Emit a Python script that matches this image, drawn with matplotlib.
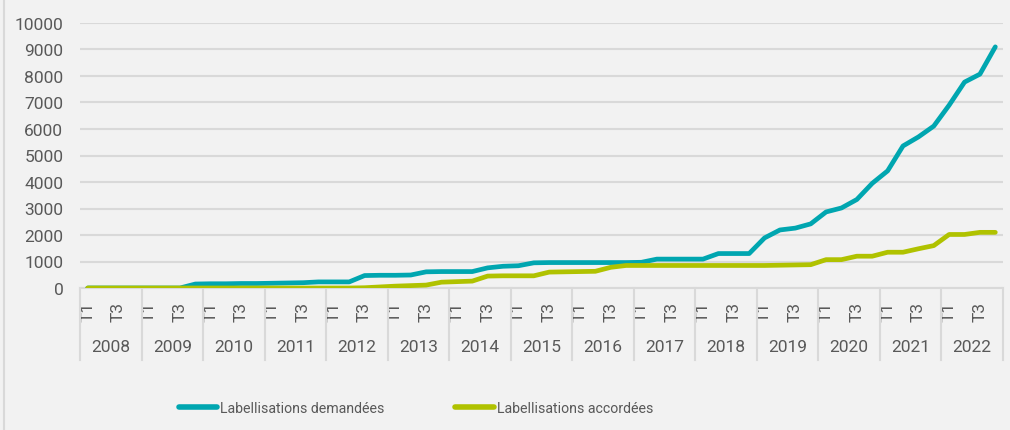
import matplotlib
matplotlib.use("Agg")
import matplotlib.pyplot as plt
import matplotlib.transforms as mtransforms
from matplotlib.lines import Line2D

# Quarterly cumulative data, 2008 T1 -> 2022 T4
years = list(range(2008, 2023))
quarters = ["T1", "T2", "T3", "T4"]

demandees = [
    0, 0, 0, 0,              # 2008
    0, 0, 0, 150,            # 2009
    160, 160, 170, 170,      # 2010
    180, 190, 200, 230,      # 2011
    230, 230, 470, 480,      # 2012
    480, 490, 610, 620,      # 2013
    620, 620, 760, 820,      # 2014
    840, 950, 960, 960,      # 2015
    960, 960, 960, 960,      # 2016
    970, 1090, 1090, 1090,   # 2017
    1090, 1300, 1300, 1300,  # 2018
    1890, 2190, 2260, 2420,  # 2019
    2870, 3020, 3340, 3950,  # 2020
    4420, 5360, 5700, 6110,  # 2021
    6900, 7770, 8070, 9100,  # 2022
]

accordees = [
    0, 0, 0, 0,              # 2008
    0, 0, 0, 0,              # 2009
    0, 0, 0, 0,              # 2010
    0, 0, 0, 0,              # 2011
    0, 0, 10, 40,            # 2012
    70, 90, 110, 220,        # 2013
    240, 260, 450, 460,      # 2014
    460, 460, 600, 610,      # 2015
    620, 630, 780, 850,      # 2016
    850, 850, 850, 850,      # 2017
    850, 850, 850, 850,      # 2018
    850, 860, 870, 880,      # 2019
    1070, 1070, 1200, 1200,  # 2020
    1350, 1350, 1480, 1600,  # 2021
    2020, 2020, 2100, 2100,  # 2022
]

labels = ["Labellisations demandées", "Labellisations accordées"]
colors = ["#00a6b0", "#b0c200"]

W, H = 1010, 431
fig = plt.figure(figsize=(W / 100, H / 100), dpi=100, facecolor="#f2f2f2")

# plot area in pixels: x 80..1003, y 24..289
ax = fig.add_axes([80 / W, 1 - 289 / H, 923 / W, 265 / H])
ax.set_facecolor("#f2f2f2")

n = len(demandees)
x = list(range(n))
for series, c in zip([demandees, accordees], colors):
    ax.plot(x, series, color=c, lw=3.4, solid_capstyle="round", solid_joinstyle="round", zorder=3)

ax.set_xlim(-0.5, n - 0.5)
ax.set_ylim(0, 10000)
ax.set_yticks(range(0, 10001, 1000))
ax.grid(axis="y", color="#d9d9d9", lw=1.5)
ax.set_axisbelow(True)

for s in ["top", "right", "left"]:
    ax.spines[s].set_visible(False)
ax.spines["bottom"].set_color("#d9d9d9")
ax.spines["bottom"].set_linewidth(1.5)

font = ["Roboto", "DejaVu Sans"]
txt_color = "#595959"
ax.tick_params(axis="y", length=0, pad=12, labelsize=12.5, labelcolor=txt_color)
for lab in ax.get_yticklabels():
    lab.set_family(font)

# quarter labels (only T1 and T3 shown)
tick_pos = [i for i in x if i % 4 in (0, 2)]
tick_lab = [quarters[i % 4] for i in tick_pos]
ax.set_xticks(tick_pos)
ax.set_xticklabels(tick_lab, rotation=90, family=font, fontsize=12.5, color=txt_color)
ax.tick_params(axis="x", length=0, pad=9)

# year labels and separators
trans = mtransforms.blended_transform_factory(ax.transData, ax.transAxes)
for k, yr in enumerate(years):
    ax.text(4 * k + 1.5, -0.222, str(yr), transform=trans, ha="center", va="center",
            family=font, fontsize=12.5, color=txt_color)
for k in range(len(years) + 1):
    ax.plot([4 * k - 0.5, 4 * k - 0.5], [0, -0.27], transform=trans, color="#d9d9d9",
            lw=1.5, clip_on=False)

# left border of the chart frame
fig.add_artist(Line2D([3.5 / W, 3.5 / W], [0, 1], color="#d9d9d9", lw=1.5))

handles = [Line2D([], [], color=c, lw=4, solid_capstyle="round") for c in colors]
fig.legend(handles, labels, loc="center", bbox_to_anchor=(416 / W, 1 - 409 / H), ncol=2,
           frameon=False, handlelength=2.7, handletextpad=0.22, columnspacing=5.0,
           prop={"family": font, "size": 10.2}, labelcolor=txt_color)

fig.savefig("out.png", dpi=100, facecolor=fig.get_facecolor())
